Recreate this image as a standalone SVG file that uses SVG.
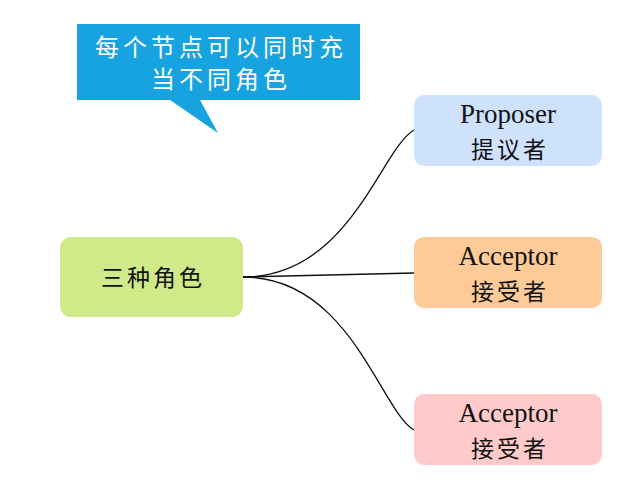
<svg xmlns="http://www.w3.org/2000/svg" width="626" height="483" viewBox="0 0 626 483">
<style>
.lat{font-family:"Liberation Serif",serif;font-size:27px;fill:#111;text-anchor:middle}
.cjk{font-family:"Noto Sans CJK SC",sans-serif;font-size:23px;fill:#111;text-anchor:middle;letter-spacing:3px}
.call{font-family:"Noto Sans CJK SC",sans-serif;font-size:24px;fill:#fff;text-anchor:middle;letter-spacing:4px}
.edge{fill:none;stroke:#111;stroke-width:1.3}
</style>
<rect width="626" height="483" fill="#fff"/>
<g id="callout">
<path d="M77 24H360V100H200L218 133L170 100H77Z" fill="#17a2e0"/>
<text class="call" x="221" y="56">每个节点可以同时充</text>
<text class="call" x="221" y="88">当不同角色</text>
</g>
<g id="connectors">
<path class="edge" d="M243 277C350 277 380 150 414 130"/>
<path class="edge" d="M243 277L414 273"/>
<path class="edge" d="M243 277C350 277 380 410 414 430"/>
</g>
<g id="center">
<rect x="60" y="237" width="183" height="80" rx="11" fill="#d0ea8a"/>
<text class="cjk" x="153" y="286" font-size="25">三种角色</text>
</g>
<g id="proposer">
<rect x="414" y="95" width="188" height="71" rx="10" fill="#cfe2fc"/>
<text class="lat" x="508" y="123">Proposer</text>
<text class="cjk" x="510" y="158">提议者</text>
</g>
<g id="acceptor1">
<rect x="414" y="237" width="188" height="71" rx="10" fill="#fecb98"/>
<text class="lat" x="508" y="265">Acceptor</text>
<text class="cjk" x="510" y="300">接受者</text>
</g>
<g id="acceptor2">
<rect x="414" y="394" width="188" height="71" rx="10" fill="#fecaca"/>
<text class="lat" x="508" y="422">Acceptor</text>
<text class="cjk" x="510" y="457">接受者</text>
</g>
</svg>
